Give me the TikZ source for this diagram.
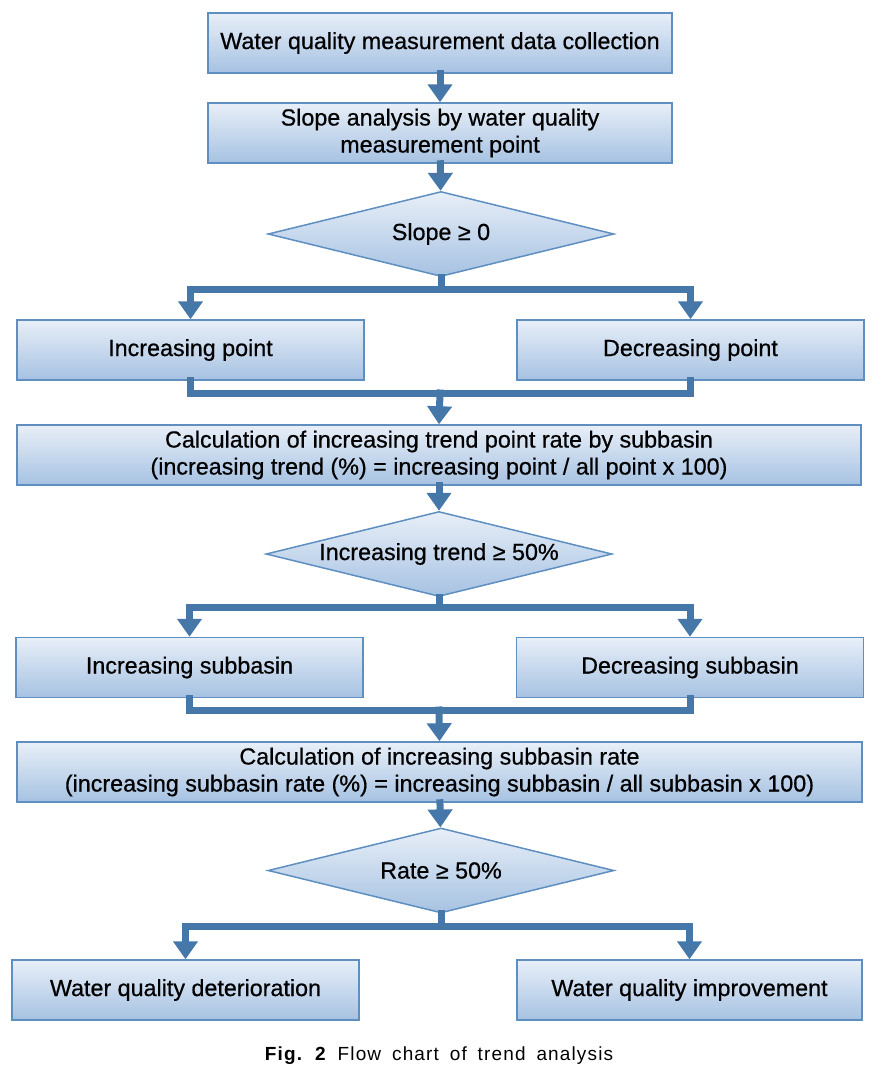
\documentclass[tikz,border=0pt]{standalone}
\usepackage{fontspec}
\setmainfont{Liberation Sans}
\newfontfamily\boxfont[FakeBold=0.6]{Liberation Sans}
\newfontfamily\capfont[LetterSpace=6,WordSpace=1.7]{Liberation Sans}
\usetikzlibrary{shapes.geometric,arrows.meta}
\definecolor{boxtop}{HTML}{E8EFF8}
\definecolor{boxbot}{HTML}{A6C2E2}
\definecolor{boxedge}{HTML}{5E8FC0}
\definecolor{conncol}{HTML}{4677A9}
\tikzset{
  box/.style={draw=boxedge, line width=1.5pt, top color=boxtop, bottom color=boxbot,
    minimum height=60pt, inner sep=0pt, align=center,
    font=\boxfont\fontsize{23.3}{27}\selectfont},
  dec/.style={draw=boxedge, line width=1.5pt, top color=boxtop, bottom color=boxbot,
    diamond, aspect=4.07, minimum width=346pt, minimum height=85pt, inner sep=0pt,
    font=\boxfont\fontsize{23.3}{27}\selectfont},
  conn/.style={draw=conncol, line width=7pt, line cap=rect},
  arr/.style={conn, -{Triangle[width=24pt,length=18pt]}}
}
\begin{document}
\begin{tikzpicture}[x=1pt,y=-1pt]
\useasboundingbox (0,0) rectangle (884,1076);
% nodes
\node[box, minimum width=464pt] (b1) at (440,43) {Water quality measurement data collection};
\node[box, minimum width=464pt] (b2) at (440,133) {Slope analysis by water quality\\measurement point};
\node[dec] (d1) at (441,234) {Slope ≥ 0};
\node[box, minimum width=347pt] (incp) at (190.5,350) {Increasing point};
\node[box, minimum width=347pt] (decp) at (690.5,350) {Decreasing point};
\node[box, minimum width=844pt] (c1) at (439,455) {Calculation of increasing trend point rate by subbasin\\(increasing trend (\%) = increasing point / all point x 100)};
\node[dec] (d2) at (439,554) {Increasing trend ≥ 50\%};
\node[box, minimum width=347pt] (incs) at (189.5,667.5) {Increasing subbasin};
\node[box, minimum width=347pt] (decs) at (690,667.5) {Decreasing subbasin};
\node[box, minimum width=845pt] (c2) at (439.5,772) {Calculation of increasing subbasin rate\\(increasing subbasin rate (\%) = increasing subbasin / all subbasin x 100)};
\node[dec] (d3) at (441,870.5) {Rate ≥ 50\%};
\node[box, minimum width=347pt] (wqd) at (185.5,990) {Water quality deterioration};
\node[box, minimum width=345pt] (wqi) at (689.5,990) {Water quality improvement};
\node[font=\capfont\fontsize{19}{22}\selectfont] (cap) at (439,1056) {\textbf{Fig. 2} Flow chart of trend analysis};
% junction coordinates
\coordinate (s1) at (441,289);
\coordinate (m1) at (440,393);
\coordinate (s2) at (439,607);
\coordinate (m2) at (439,710);
\coordinate (s3) at (441,926);
% connectors
\draw[arr] (b1) -- (b2);
\draw[arr] (b2) -- (d1);
\draw[conn] (d1.south) -- (s1);
\draw[arr] (s1) -| (incp.north);
\draw[arr] (s1) -| (decp.north);
\draw[conn] (incp.south) |- (m1);
\draw[conn] (decp.south) |- (m1);
\draw[arr] (m1) -- (c1.north);
\draw[arr] (c1) -- (d2);
\draw[conn] (d2.south) -- (s2);
\draw[arr] (s2) -| (incs.north);
\draw[arr] (s2) -| (decs.north);
\draw[conn] (incs.south) |- (m2);
\draw[conn] (decs.south) |- (m2);
\draw[arr] (m2) -- (c2.north);
\draw[arr] (c2) -- (d3);
\draw[conn] (d3.south) -- (s3);
\draw[arr] (s3) -| (wqd.north);
\draw[arr] (s3) -| (wqi.north);
\end{tikzpicture}
\end{document}
